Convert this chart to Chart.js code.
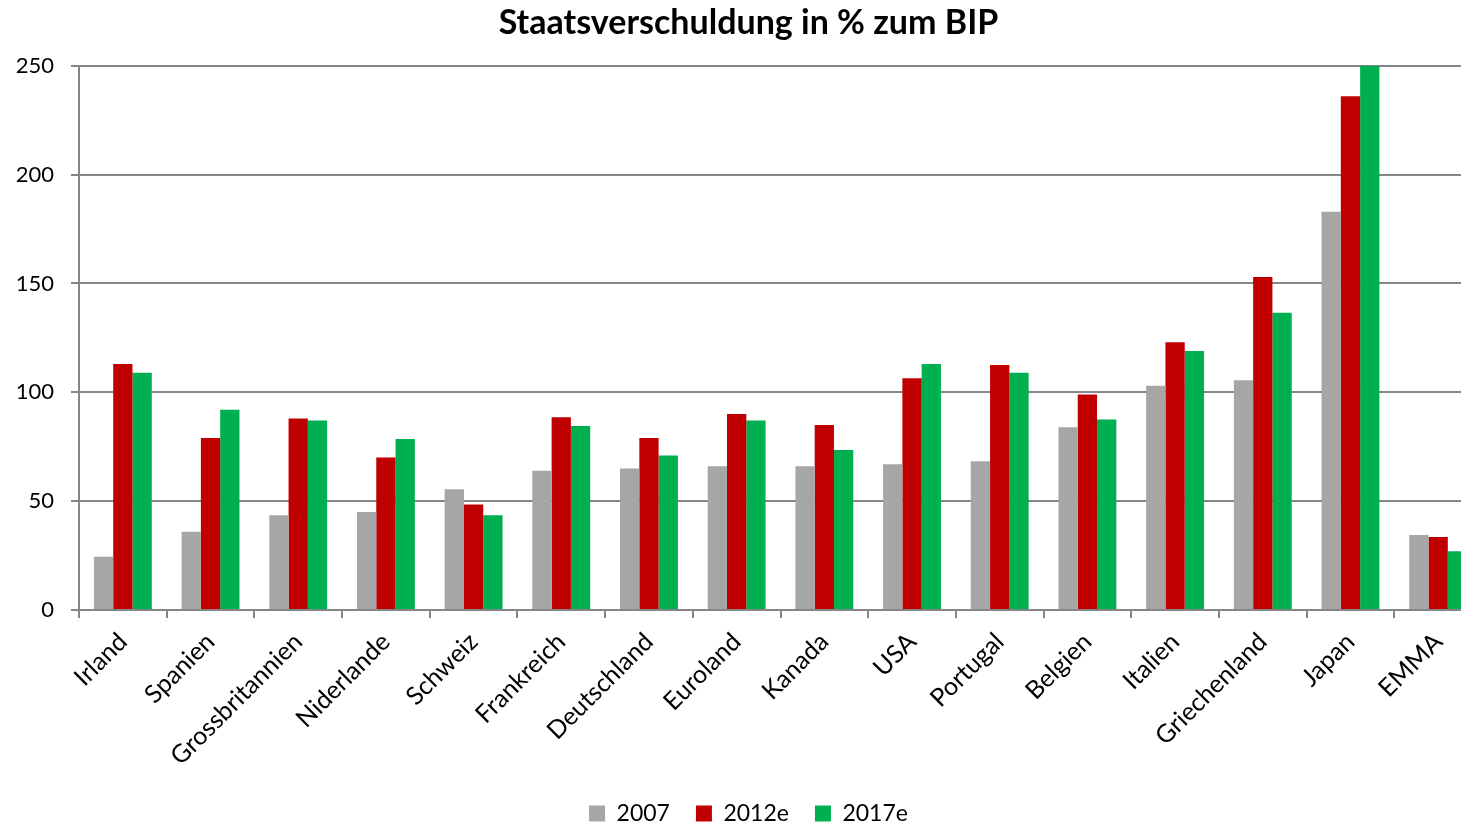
<!DOCTYPE html>
<html>
<head>
<meta charset="utf-8">
<script src="https://cdn.jsdelivr.net/npm/chart.js@4"></script>
<style>
  html, body { margin: 0; padding: 0; background: #fff; overflow: hidden; }
  #wrap { width: 1461px; height: 823px; overflow: hidden; }
  #box { width: 1505px; height: 839px; }
</style>
</head>
<body>
<div id="wrap"><div id="box"><canvas id="myChart"></canvas></div></div>
<script>
// Staatsverschuldung in % zum BIP
const laender = ["Irland", "Spanien", "Grossbritannien", "Niderlande", "Schweiz", "Frankreich",
  "Deutschland", "Euroland", "Kanada", "USA", "Portugal", "Belgien", "Italien",
  "Griechenland", "Japan", "EMMA"]
const werte2007 = [24.5, 36, 43.5, 45, 55.5, 64, 65, 66, 66, 67, 68.3, 84, 103, 105.5, 183, 34.5]
const werte2012 = [113, 79, 88, 70, 48.5, 88.5, 79, 90, 85, 106.5, 112.5, 99, 123, 153, 236, 33.5]
const werte2017 = [109, 92, 87, 78.5, 43.5, 84.5, 71, 87, 73.5, 113, 109, 87.5, 119, 136.5, 250, 27]
const yTicks = [0, 50, 100, 150, 200, 250]

const ctx = document.getElementById("myChart")
const gridColor = '#868686'
const font = "Lato, 'Open Sans', sans-serif"

const data = {
  labels: laender,
  datasets: [
    { label: "2007", data: werte2007, backgroundColor: '#A6A6A6' },
    { label: "2012e", data: werte2012, backgroundColor: '#C00000' },
    { label: "2017e", data: werte2017, backgroundColor: '#00B050' }
  ]
}

const config = {
  type: 'bar',
  data: data,
  options: {
    responsive: true,
    maintainAspectRatio: false,
    animation: false,
    layout: { padding: { left: 15, right: 23, top: 0, bottom: 4 } },
    datasets: { bar: { categoryPercentage: 0.66, barPercentage: 1.0 } },
    plugins: {
      title: {
        display: true,
        text: 'Staatsverschuldung in % zum BIP',
        color: '#000',
        font: { family: font, size: 34, weight: 'bold' },
        padding: { top: 3, bottom: 22 }
      },
      legend: {
        position: 'bottom',
        labels: {
          color: '#000',
          font: { family: font, size: 23 },
          boxWidth: 16,
          boxHeight: 16,
          padding: 26
        }
      },
      tooltip: { enabled: false }
    },
    scales: {
      x: {
        grid: { display: true, drawOnChartArea: false, drawTicks: true, tickLength: 8, color: gridColor, lineWidth: 2, offset: true },
        border: { display: true, color: gridColor, width: 2 },
        ticks: { color: '#000', font: { family: font, size: 25 }, minRotation: 45, maxRotation: 45, padding: 9 },
        afterFit: function (scale) { scale.height = 166 }
      },
      y: {
        min: 0,
        max: 250,
        afterBuildTicks: function (scale) { scale.ticks = yTicks.map(function (v) { return { value: v } }) },
        grid: { color: gridColor, lineWidth: 2, tickLength: 8 },
        border: { display: true, color: gridColor, width: 2 },
        ticks: { color: '#000', font: { family: font, size: 22 }, padding: 17 },
        afterFit: function (scale) { scale.width = 64 }
      }
    }
  }
}

const myChart = new Chart(ctx, config)
</script>
</body>
</html>
